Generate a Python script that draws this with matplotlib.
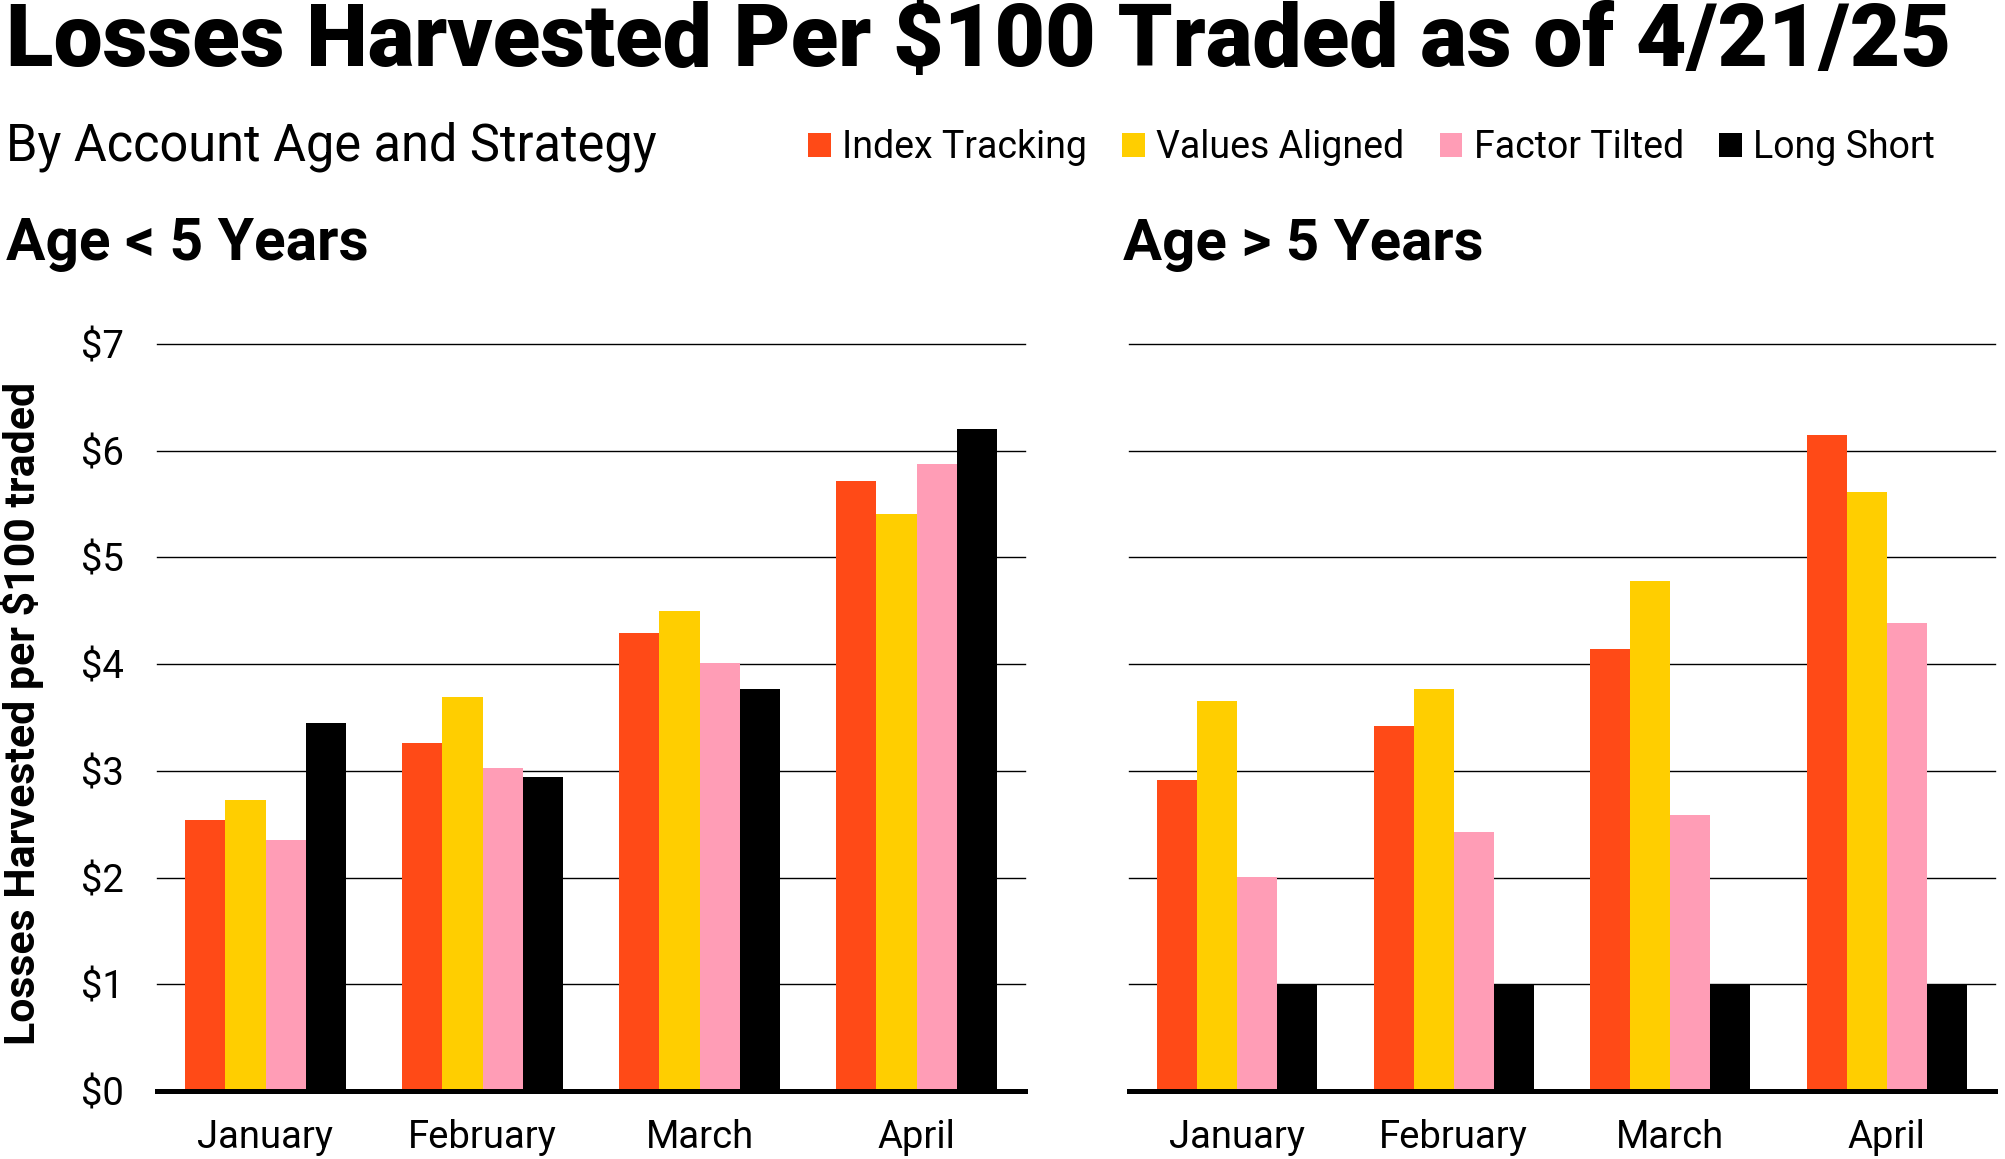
import matplotlib
matplotlib.use('Agg')
import matplotlib.pyplot as plt
import numpy as np

plt.rcParams['font.family'] = ['Roboto', 'DejaVu Sans']

months = ['January', 'February', 'March', 'April']
strategies = ['Index Tracking', 'Values Aligned', 'Factor Tilted', 'Long Short']
colors = ['#FF4A17', '#FFCE00', '#FF9DB6', '#000000']

# Age < 5 years
young_index = [2.54, 3.26, 4.29, 5.72]
young_values = [2.73, 3.69, 4.50, 5.41]
young_factor = [2.35, 3.03, 4.01, 5.88]
young_longshort = [3.45, 2.94, 3.77, 6.20]

# Age > 5 years
old_index = [2.91, 3.42, 4.14, 6.15]
old_values = [3.65, 3.77, 4.78, 5.61]
old_factor = [2.01, 2.43, 2.59, 4.39]
old_longshort = [1.00, 1.00, 1.00, 1.00]

y_ticks = [0, 1, 2, 3, 4, 5, 6, 7]
y_ticklabels = ['$0', '$1', '$2', '$3', '$4', '$5', '$6', '$7']

W, H = 2005, 1159
fig = plt.figure(figsize=(W / 100, H / 100), dpi=100)
renderer = fig.canvas.get_renderer()


def fit(t, target):
    # scale font size so the text is target pixels wide (or tall if rotated)
    bb = t.get_window_extent(renderer)
    size = bb.height if t.get_rotation() == 90 else bb.width
    t.set_fontsize(t.get_fontsize() * target / size)


def draw_panel(ax, series, show_labels):
    x = np.arange(len(months))
    bw = 0.185
    bars = []
    for i, vals in enumerate(series):
        b = ax.bar(x + (i - 1.5) * bw, vals, bw, color=colors[i], label=strategies[i], zorder=3)
        bars.append(b)
    ax.set_xlim(-0.5, len(months) - 0.5)
    ax.set_ylim(0, 7)
    ax.set_yticks(y_ticks)
    ax.set_yticklabels(y_ticklabels if show_labels else [])
    ax.set_xticks(x)
    ax.set_xticklabels(months)
    ax.yaxis.grid(True, color='black', lw=1.0, zorder=1)
    for gl in ax.get_ygridlines():
        gl.set_clip_on(False)
    ax.set_axisbelow(True)
    for s in ['top', 'left', 'right']:
        ax.spines[s].set_visible(False)
    ax.spines['bottom'].set_linewidth(3.6)
    ax.spines['bottom'].set_zorder(4)
    ax.tick_params(axis='both', length=0, labelsize=27.5)
    ax.tick_params(axis='x', pad=20)
    ax.tick_params(axis='y', pad=24)
    return bars


ax1 = fig.add_axes([157 / W, 1 - 1091 / H, (1025 - 157) / W, (1091 - 344) / H])
ax2 = fig.add_axes([1129 / W, 1 - 1091 / H, (1995 - 1129) / W, (1091 - 344) / H])

bars = draw_panel(ax1, [young_index, young_values, young_factor, young_longshort], True)
draw_panel(ax2, [old_index, old_values, old_factor, old_longshort], False)

title = fig.text(6 / W, 1 - 66 / H, 'Losses Harvested Per $100 Traded as of 4/21/25',
                 fontsize=50, fontweight='black', va='baseline', ha='left')
fit(title, 1947)

sub = fig.text(6 / W, 1 - 161 / H, 'By Account Age and Strategy',
               fontsize=30, va='baseline', ha='left')
fit(sub, 650)

t1 = fig.text(6 / W, 1 - 260 / H, 'Age < 5 Years', fontsize=30, fontweight='bold',
              va='baseline', ha='left')
fit(t1, 362)
t2 = fig.text(1123 / W, 1 - 260 / H, 'Age > 5 Years', fontsize=30, fontweight='bold',
              va='baseline', ha='left')
fit(t2, 360)

ylab = fig.text(22 / W, 1 - 713 / H, 'Losses Harvested per $100 traded', rotation=90,
                fontsize=24, fontweight='bold', va='center', ha='center')
fit(ylab, 664)

fig.legend(handles=bars, labels=strategies, ncol=4, loc='center right',
           bbox_to_anchor=(1935 / W, 1 - 148 / H), frameon=False, fontsize=27,
           handlelength=0.6, handleheight=0.6, handletextpad=0.3,
           columnspacing=0.95, borderaxespad=0, borderpad=0)

fig.savefig('out.png', dpi=100)
